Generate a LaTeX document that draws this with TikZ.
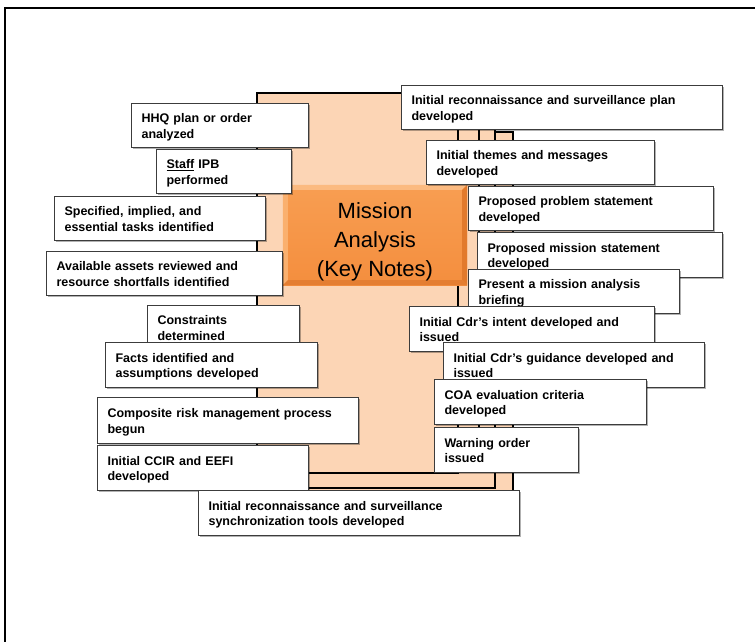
\documentclass[tikz,border=0pt]{standalone}
\usepackage{fontspec}
\setmainfont{Liberation Sans}
\usetikzlibrary{shadows}

\definecolor{peach}{RGB}{252,213,181}
\definecolor{boxline}{RGB}{60,60,60}
\definecolor{facetop}{RGB}{248,158,82}
\definecolor{facebot}{RGB}{244,142,62}
\definecolor{bevellight}{RGB}{251,186,128}
\definecolor{bevelleft}{RGB}{250,176,110}
\definecolor{beveldark}{RGB}{226,122,44}
\definecolor{bevelbottom}{RGB}{228,126,50}

\newcommand\notefont{\bfseries\fontsize{12.5}{15.5}\selectfont}
\newcommand\corefont{\fontsize{22}{29}\selectfont}

\begin{document}
\begin{tikzpicture}[x=1pt,y=-1pt,
  sheet/.style={draw=black, line width=2.4pt, fill=peach},
  note/.style={draw=boxline, line width=1.1pt, fill=white, anchor=north west,
    inner xsep=10pt, inner ysep=0pt, align=left, font=\notefont,
    execute at begin node={\rule{0pt}{12.5pt}},
    execute at end node={\rule[-3pt]{0pt}{3pt}},
    drop shadow={shadow xshift=1.2pt, shadow yshift=-1.2pt, fill=black, opacity=0.3}},
  nsize/.style n args={3}{minimum width=#1pt, text width=#2pt, minimum height=#3pt},
  core/.style={minimum width=184pt, minimum height=100pt, inner sep=0pt,
    top color=facetop, bottom color=facebot, draw=none},
]
\useasboundingbox (0,0) rectangle (755,642);

% page frame
\draw[line width=2pt] (5,642) -- (5,8) -- (755,8);

% stacked sheets, back to front
\draw[sheet] (290,132) rectangle (513,505);
\draw[sheet] (275,112) rectangle (495,488);
\draw[sheet] (265,100) rectangle (479,470);
\draw[sheet] (257,93) rectangle (458,473);

% central bevelled block
\node[core] (core) at (375,235) {};
\fill[bevellight] (core.north west) -- (core.north east)
  -- ([xshift=-5pt,yshift=-5pt]core.north east) -- ([xshift=5pt,yshift=-5pt]core.north west) -- cycle;
\fill[bevelleft] (core.north west) -- ([xshift=5pt,yshift=-5pt]core.north west)
  -- ([xshift=5pt,yshift=5pt]core.south west) -- (core.south west) -- cycle;
\fill[beveldark] (core.north east) -- (core.south east)
  -- ([xshift=-5pt,yshift=5pt]core.south east) -- ([xshift=-5pt,yshift=-5pt]core.north east) -- cycle;
\fill[bevelbottom] (core.south west) -- ([xshift=5pt,yshift=5pt]core.south west)
  -- ([xshift=-5pt,yshift=5pt]core.south east) -- (core.south east) -- cycle;
\node[font=\corefont, align=center] (coretext) at (375,242) {Mission\\Analysis\\(Key Notes)};

% left column
\node[note, nsize={177}{157}{44}] (hhq) at (131,103) {HHQ plan or order\\analyzed};
\node[note, nsize={135}{115}{44}] (ipb) at (156,149) {\underline{Staff} IPB\\performed};
\node[note, nsize={211}{191}{44}] (tasks) at (54,196) {Specified, implied, and\\essential tasks identified};
\node[note, nsize={236}{216}{44}] (assets) at (46,251) {Available assets reviewed and\\resource shortfalls identified};
\node[note, nsize={152}{132}{44}] (constr) at (147,305) {Constraints\\determined};
\node[note, nsize={212}{192}{45}] (facts) at (105,342) {Facts identified and\\assumptions developed};
\node[note, nsize={261}{241}{46}] (risk) at (97,397) {Composite risk management process\\begun};
\node[note, nsize={211}{191}{45}] (ccir) at (97,445) {Initial CCIR and EEFI\\developed};

% right column
\node[note, nsize={321}{301}{44}] (rsplan) at (401,85) {Initial reconnaissance and surveillance plan\\developed};
\node[note, nsize={228}{208}{44}] (themes) at (426,140) {Initial themes and messages\\developed};
\node[note, nsize={245}{225}{44}] (problem) at (468,186) {Proposed problem statement\\developed};
\node[note, nsize={245}{225}{45}] (mission) at (477,232) {Proposed mission statement\\developed};
\node[note, nsize={211}{191}{44}] (brief) at (468,269) {Present a mission analysis\\briefing};
\node[note, nsize={245}{225}{45}] (intent) at (409,306) {Initial Cdr’s intent developed and\\issued};
\node[note, nsize={261}{241}{45}] (guidance) at (443,342) {Initial Cdr’s guidance developed and\\issued};
\node[note, nsize={212}{192}{45}] (coa) at (434,379) {COA evaluation criteria\\developed};
\node[note, nsize={144}{124}{45}] (warno) at (434,427) {Warning order\\issued};

% bottom
\node[note, nsize={321}{301}{45}] (rssync) at (198,490) {Initial reconnaissance and surveillance\\synchronization tools developed};
\end{tikzpicture}
\end{document}
